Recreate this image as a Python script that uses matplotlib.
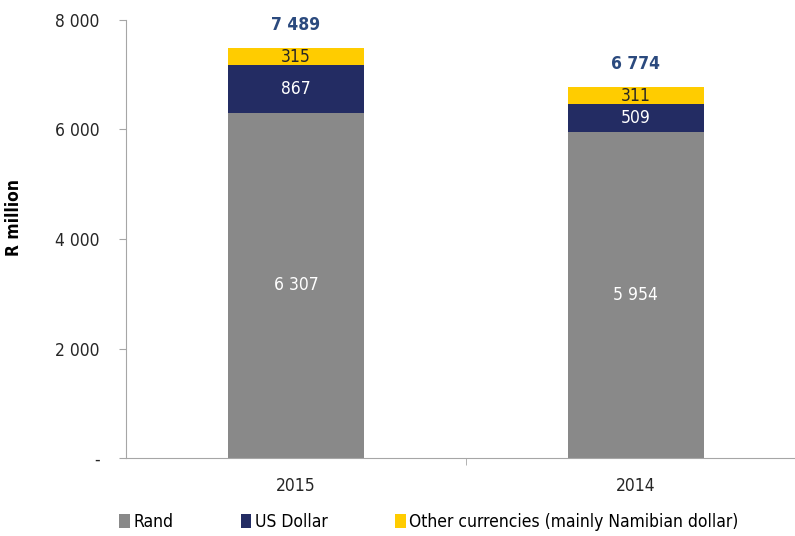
import numpy as np
import matplotlib
matplotlib.use("Agg")
import matplotlib.pyplot as plt

plt.rcParams["font.family"] = ["DejaVu Sans"]
plt.rcParams["font.stretch"] = "condensed"

anios = ["2015", "2014"]
rand = [6307, 5954]
us_dollar = [867, 509]
otras = [315, 311]
totales = [7489, 6774]
series = ["Rand", "US Dollar", "Other currencies (mainly Namibian dollar)"]

GRIS = "#898989"
AZUL = "#232C63"
AMARILLO = "#FFCC00"
AZUL_TXT = "#2B4A7E"
EJE = "#A6A6A6"


def fmt(v):
    return f"{v:,.0f}".replace(",", " ")


fig = plt.figure(figsize=(7.95, 5.36), dpi=100)
ax = fig.add_axes([0.1585, 0.1455, 0.855, 0.8172])

x = np.arange(len(anios))
ancho = 0.4
b1 = ax.bar(x, rand, ancho, color=GRIS, label=series[0])
b2 = ax.bar(x, us_dollar, ancho, bottom=rand, color=AZUL, label=series[1])
base3 = np.array(rand) + np.array(us_dollar)
b3 = ax.bar(x, otras, ancho, bottom=base3, color=AMARILLO, label=series[2])

ax.bar_label(b1, labels=[fmt(v) for v in rand], label_type="center",
             color="white", fontsize=12.5)
ax.bar_label(b2, labels=[fmt(v) for v in us_dollar], label_type="center",
             color="white", fontsize=12.5)
ax.bar_label(b3, labels=[fmt(v) for v in otras], label_type="center",
             color="#262626", fontsize=12.5)
ax.bar_label(b3, labels=[fmt(v) for v in totales], padding=10,
             color=AZUL_TXT, fontsize=12.5, fontweight="bold")

ax.set_xlim(-0.5, 1.5)
ax.set_ylim(0, 8000)
ax.set_xticks(x)
ax.set_xticklabels(anios)
ax.set_xticks([0.5], minor=True)
yt = [0, 2000, 4000, 6000, 8000]
ax.set_yticks(yt)
ax.set_yticklabels(["-"] + [fmt(v) for v in yt[1:]])
ax.tick_params(axis="y", which="major", length=5, color=EJE, labelsize=12.5,
               labelcolor="#262626", pad=14)
ax.tick_params(axis="x", which="major", length=0, labelsize=12.5,
               labelcolor="#262626", pad=14)
ax.tick_params(axis="x", which="minor", length=5, color=EJE, direction="out")
for s in ["top", "right"]:
    ax.spines[s].set_visible(False)
for s in ["left", "bottom"]:
    ax.spines[s].set_color(EJE)
ax.set_ylabel("R million", fontsize=12.5, fontweight="bold")
ax.yaxis.set_label_coords(-0.152, 0.55)

ax.legend(loc="upper left", bbox_to_anchor=(-0.02, -0.11), ncol=3,
          frameon=False, fontsize=12.5, handlelength=0.6, handleheight=0.9,
          handletextpad=0.2, columnspacing=3.9, borderaxespad=0)

fig.savefig("out.png", dpi=100)
